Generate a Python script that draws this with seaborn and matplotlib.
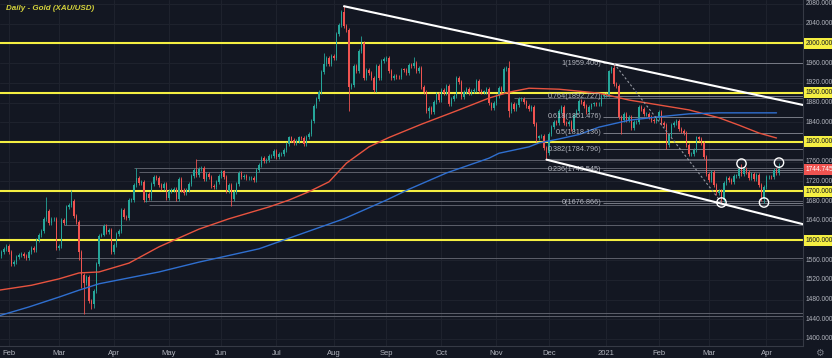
import numpy as np
import pandas as pd
import matplotlib
matplotlib.use("Agg")
import matplotlib.pyplot as plt
import seaborn as sns
from matplotlib.transforms import blended_transform_factory

sns.set_style("ticks")
plt.rcParams['font.family'] = ['Liberation Sans', 'DejaVu Sans']

# daily closes XAU/USD
first_open = 1568
jan20 = [1577, 1583, 1589]
feb20 = [1576, 1553, 1556, 1566, 1570, 1572, 1568, 1565, 1576, 1584,
         1581, 1601, 1611, 1620, 1643, 1659, 1636, 1643, 1643, 1585]
mar20 = [1589, 1641, 1636, 1668, 1672, 1680, 1649, 1637, 1576, 1530,
         1514, 1526, 1477, 1471, 1498, 1553, 1610, 1612, 1629, 1617, 1622, 1577]
apr20 = [1591, 1614, 1620, 1662, 1647, 1645, 1683, 1683, 1713, 1727, 1716,
         1718, 1683, 1695, 1686, 1714, 1729, 1727, 1713, 1707, 1714, 1686]
may20 = [1700, 1702, 1705, 1685, 1725, 1702, 1697, 1702, 1715, 1730, 1743,
         1733, 1745, 1748, 1725, 1735, 1728, 1710, 1708, 1719, 1730]
jun20 = [1740, 1728, 1700, 1713, 1684, 1698, 1715, 1737, 1728, 1730, 1726,
         1726, 1727, 1723, 1743, 1754, 1768, 1762, 1763, 1771, 1772, 1781]
jul20 = [1770, 1775, 1775, 1784, 1795, 1809, 1803, 1798, 1802, 1809, 1808, 1796,
         1810, 1817, 1842, 1872, 1888, 1902, 1941, 1958, 1970, 1958, 1975]
aug20 = [1970, 2019, 2038, 2063, 2035, 2028, 1911, 1915, 1954, 1944, 1985,
         2000, 1930, 1946, 1940, 1929, 1906, 1954, 1930, 1964, 1968]
sep20 = [1970, 1944, 1930, 1934, 1932, 1931, 1947, 1946, 1940, 1956, 1954,
         1960, 1943, 1950, 1912, 1901, 1863, 1868, 1861, 1881, 1898, 1886]
oct20 = [1906, 1900, 1913, 1877, 1887, 1893, 1930, 1922, 1892, 1901, 1908,
         1899, 1904, 1906, 1924, 1904, 1902, 1902, 1908, 1878, 1868, 1879]
nov20 = [1894, 1909, 1904, 1948, 1951, 1862, 1877, 1866, 1874, 1888, 1888,
         1881, 1872, 1866, 1871, 1837, 1807, 1811, 1812, 1788, 1777]
dec20 = [1816, 1830, 1841, 1839, 1862, 1871, 1839, 1836, 1840, 1827, 1854, 1863,
         1884, 1881, 1872, 1861, 1871, 1876, 1878, 1876, 1877, 1893, 1895]
jan21 = [1895, 1943, 1950, 1918, 1913, 1850, 1844, 1856, 1845, 1851, 1828,
         1840, 1840, 1871, 1866, 1856, 1856, 1850, 1844, 1843, 1848]
feb21 = [1861, 1838, 1834, 1793, 1814, 1834, 1838, 1843, 1826, 1823,
         1818, 1794, 1775, 1775, 1784, 1809, 1806, 1797, 1770, 1734]
mar21 = [1723, 1738, 1712, 1697, 1700, 1683, 1716, 1726, 1722, 1719, 1731, 1731,
         1745, 1735, 1745, 1738, 1726, 1734, 1725, 1732, 1712, 1685, 1708]
apr21 = [1728, 1729, 1728, 1743, 1737, 1744.745]

# notable wicks
spike_highs = {'2020-02-24': 1689, '2020-03-09': 1703, '2020-04-14': 1747,
               '2020-05-18': 1765, '2020-07-28': 1981, '2020-08-07': 2075,
               '2020-08-18': 2015, '2020-09-16': 1973, '2020-11-09': 1965,
               '2021-01-06': 1959.4, '2021-03-18': 1755, '2021-04-08': 1758}
spike_lows = {'2020-03-12': 1560, '2020-03-13': 1504, '2020-03-16': 1451,
              '2020-03-19': 1460, '2020-03-20': 1463, '2020-06-05': 1670,
              '2020-08-11': 1863, '2020-09-24': 1849, '2020-11-09': 1850,
              '2020-11-24': 1800, '2020-11-30': 1764, '2021-01-11': 1817,
              '2021-02-04': 1785, '2021-03-08': 1676.9, '2021-03-31': 1677}

# moving averages (bar index, price)
ma_red_x = [-1, 12, 23, 31, 39, 51, 63, 79, 91, 107, 115, 123, 131, 138, 147, 155,
            168, 183, 195, 203, 211, 223, 231, 239, 251, 263, 275, 287, 295, 303, 310]
ma_red_y = [1499, 1509, 1522, 1534, 1536, 1554, 1587, 1623, 1644, 1668, 1682, 1699,
            1719, 1757, 1790, 1809, 1836, 1865, 1889, 1901, 1909, 1907, 1903, 1899,
            1885, 1875, 1865, 1849, 1834, 1818, 1808]
ma_blue_x = [-1, 11, 23, 31, 39, 51, 63, 79, 103, 137, 154, 163, 178, 195, 199,
             211, 215, 223, 231, 239, 251, 263, 275, 287, 310]
ma_blue_y = [1447, 1465, 1485, 1499, 1512, 1524, 1536, 1556, 1583, 1644, 1682, 1704,
             1737, 1767, 1777, 1790, 1798, 1806, 1815, 1830, 1844, 1851, 1857, 1859, 1859]

yellow_levels = [2000, 1900, 1800, 1700, 1600]
fib_labels = ['1', '0.764', '0.618', '0.5', '0.382', '0.236', '0']
fib_prices = [1959.406, 1892.727, 1851.476, 1818.136, 1784.796, 1743.545, 1676.866]
ray_prices = [1452, 1446, 1564, 1631, 1747, 1739, 1680, 1672, 1763, 1890, 1765]
ray_start = [-1, -1, 22, 25, 53, 55, 57, 59, 78, 205, 218]
upper_trend = ([137, 320.6], [2075.5, 1875])
lower_trend = ([218, 320.6], [1764, 1633])
fib_swing = ([245, 288], [1959.4, 1676.9])
circle_dates = ['2021-03-08', '2021-03-18', '2021-03-31', '2021-04-08']
circle_prices = [1677, 1756, 1677, 1758]
month_labels = ['Feb', 'Mar', 'Apr', 'May', 'Jun', 'Jul', 'Aug', 'Sep', 'Oct',
                'Nov', 'Dec', '2021', 'Feb', 'Mar', 'Apr']
last_price = 1744.745

closes = (jan20 + feb20 + mar20 + apr20 + may20 + jun20 + jul20 + aug20 + sep20 +
          oct20 + nov20 + dec20 + jan21 + feb21 + mar21 + apr21)
dates = pd.bdate_range('2020-01-29', '2021-04-08')
n = min(len(dates), len(closes))
df = pd.DataFrame({'date': dates[:n], 'close': closes[:n]})
df['open'] = [first_open] + list(df['close'][:-1])
df['high'] = df[['open', 'close']].max(axis=1) + 4
df['low'] = df[['open', 'close']].min(axis=1) - 4
for d, v in spike_highs.items():
    df.loc[df['date'] == d, 'high'] = v
for d, v in spike_lows.items():
    df.loc[df['date'] == d, 'low'] = v
df['idx'] = np.arange(n)

BG = '#131722'
GRID = '#1e222d'
TXT = '#b2b5be'
YEL = '#f5ef42'
UP = '#26a69a'
DN = '#ef5350'

fig = plt.figure(figsize=(8.32, 3.58), dpi=100, facecolor=BG)
ax = fig.add_axes([0, 12 / 358, 803 / 832, 346 / 358])
ax.set_facecolor(BG)
ax.set_xlim(-0.6, 320.6)
ax.set_ylim(1385.7, 2088.1)

# grid
for p in range(1400, 2081, 40):
    ax.axhline(p, color=GRID, lw=0.8, zorder=0)
month_pos = df.groupby(df['date'].dt.to_period('M'))['idx'].min().values[1:]
for x in month_pos:
    ax.axvline(x, color=GRID, lw=0.8, zorder=0)

# rays and fib
for p, s in zip(ray_prices, ray_start):
    ax.hlines(p, s, 320.6, color='#5d606b', lw=0.7, zorder=1)
for lab, p in zip(fib_labels, fib_prices):
    ax.hlines(p, 240.5, 320.6, color='#787b86', lw=0.7, zorder=1)
    ax.text(240, p, f'{lab}({p:.3f})', ha='right', va='center', fontsize=5.2,
            color=TXT, zorder=5)

# candles
cols = np.where(df['close'] >= df['open'], UP, DN)
ax.vlines(df['idx'], df['low'], df['high'], colors=cols, lw=0.6, zorder=3)
body = (df['close'] - df['open']).abs().clip(lower=1.2)
ax.bar(df['idx'], body, bottom=df[['open', 'close']].min(axis=1), width=0.7,
       color=cols, linewidth=0, zorder=3)

# moving averages
sns.lineplot(x=ma_red_x, y=ma_red_y, ax=ax, color='#e8533f', lw=1.0, zorder=4)
sns.lineplot(x=ma_blue_x, y=ma_blue_y, ax=ax, color='#2f6fd0', lw=1.0, zorder=4)

# horizontal yellow levels
for p in yellow_levels:
    ax.axhline(p, color=YEL, lw=1.5, zorder=2)

# trend lines
ax.plot(*upper_trend, color='white', lw=1.5, zorder=6)
ax.plot(*lower_trend, color='white', lw=1.5, zorder=6)
ax.plot(*fib_swing, color='#9598a1', lw=0.8, ls=(0, (2, 2)), zorder=6)

cidx = [df.loc[df['date'] == d, 'idx'].iloc[0] for d in circle_dates]
ax.scatter(cidx, circle_prices, s=45, facecolors='none', edgecolors='white',
           linewidths=1.0, zorder=7)

# axes styling
for s in ['top', 'left']:
    ax.spines[s].set_visible(False)
for s in ['right', 'bottom']:
    ax.spines[s].set_color('#363a45')
    ax.spines[s].set_linewidth(0.8)
ax.set_yticks([])
ax.set_xticks(month_pos)
ax.set_xticklabels(month_labels)
ax.tick_params(axis='x', length=0, labelsize=5.5, colors=TXT, pad=3)

trans = blended_transform_factory(ax.transAxes, ax.transData)
lab_x = 1.0035
for p in range(1400, 2081, 40):
    if p in yellow_levels:
        continue
    ax.text(lab_x, p, f'{p:.3f}', transform=trans, fontsize=4.8, color=TXT,
            va='center', ha='left', clip_on=False)
for p in yellow_levels:
    ax.text(lab_x, p, f'{p:.3f}', transform=trans, fontsize=4.8, color=BG,
            va='center', ha='left', clip_on=False,
            bbox=dict(boxstyle='square,pad=0.3', fc=YEL, ec='none'))
ax.text(lab_x, last_price, f'{last_price:.3f}', transform=trans, fontsize=4.8,
        color='white', va='center', ha='left', clip_on=False,
        bbox=dict(boxstyle='square,pad=0.3', fc=DN, ec='none'))

fig.text(6 / 832, 1 - 8 / 358, 'Daily - Gold (XAU/USD)', fontsize=5.8,
         color='#d4d23c', style='italic', weight='bold', va='center', ha='left')
fig.text(819 / 832, 5 / 358, '\u2699', fontsize=7, color='#787b86',
         va='center', ha='center', family='DejaVu Sans')

fig.savefig('out.png', dpi=100, facecolor=BG)
